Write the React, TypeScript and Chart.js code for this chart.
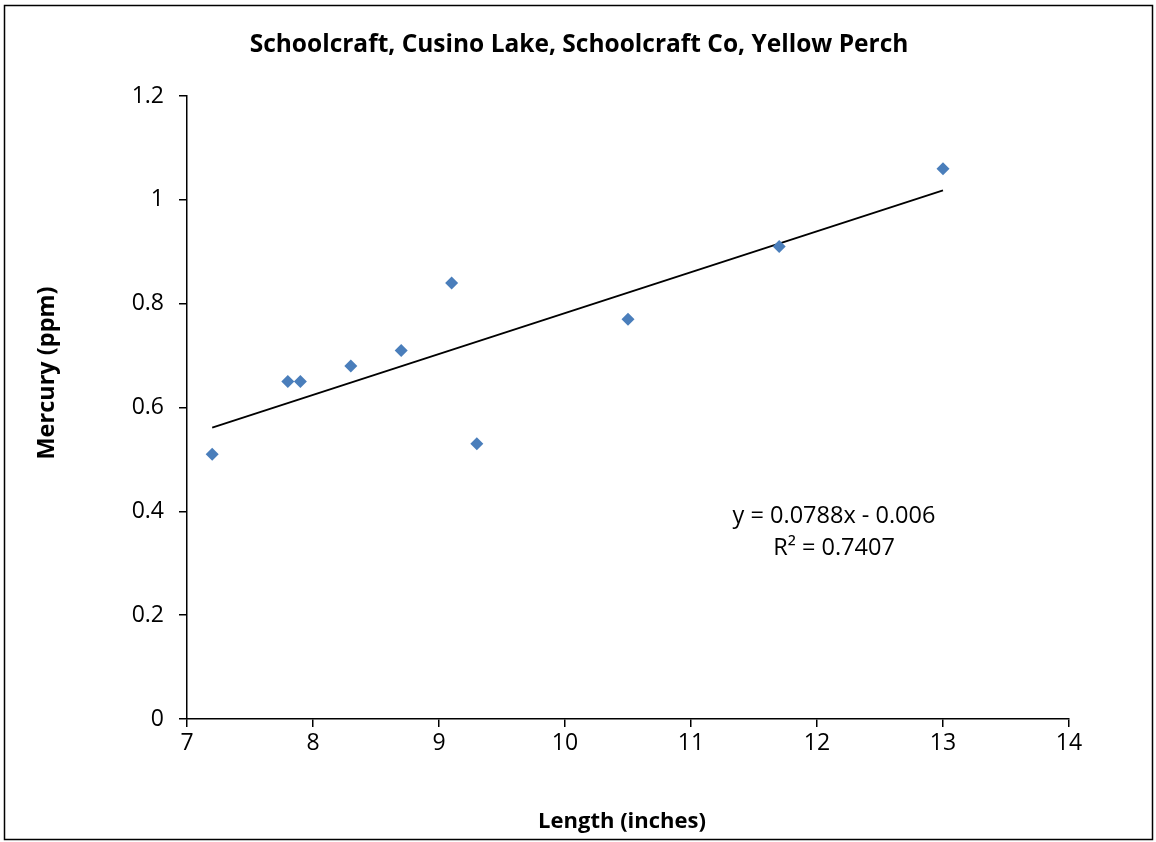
import React, { useEffect, useRef } from "react";
import { Chart, registerables } from "chart.js";

Chart.register(...registerables);

const lengths = [7.2, 7.8, 7.9, 8.3, 8.7, 9.1, 9.3, 10.5, 11.7, 13];
const mercury = [0.51, 0.65, 0.65, 0.68, 0.71, 0.84, 0.53, 0.77, 0.91, 1.06];
const trendSlope = 0.0788;
const trendIntercept = -0.006;
const xTicks = [7, 8, 9, 10, 11, 12, 13, 14];
const yTicks = [0, 0.2, 0.4, 0.6, 0.8, 1, 1.2];
const titleText = "Schoolcraft, Cusino Lake, Schoolcraft Co, Yellow Perch";
const xTitle = "Length (inches)";
const yTitle = "Mercury (ppm)";
const eqLines = ["y = 0.0788x - 0.006", "R\u00B2 = 0.7407"];

const FONT = "'Open Sans', sans-serif";

const decorPlugin = {
  id: "decor",
  beforeDraw(chart: any) {
    const ctx = chart.ctx;
    ctx.save();
    ctx.fillStyle = "#fff";
    ctx.fillRect(0, 0, chart.width, chart.height);
    ctx.restore();
  },
  afterDraw(chart: any) {
    const ctx = chart.ctx;
    ctx.save();
    ctx.strokeStyle = "#000";
    ctx.lineWidth = 1.5;
    ctx.strokeRect(4.5, 5.5, 1148, 834);
    ctx.fillStyle = "#000";
    ctx.textAlign = "center";
    ctx.textBaseline = "middle";
    ctx.font = `bold 24.5px ${FONT}`;
    ctx.fillText(titleText, 579, 45);
    ctx.font = `bold 22px ${FONT}`;
    ctx.fillText(xTitle, 622, 822);
    ctx.save();
    ctx.font = `bold 23.5px ${FONT}`;
    ctx.translate(47, 373);
    ctx.rotate(-Math.PI / 2);
    ctx.fillText(yTitle, 0, 0);
    ctx.restore();
    ctx.font = `23.5px ${FONT}`;
    ctx.fillText(eqLines[0], 834, 516);
    ctx.fillText(eqLines[1], 834, 548);
    ctx.restore();
  },
};

export default function App() {
  const ref = useRef<HTMLCanvasElement>(null);
  useEffect(() => {
    if (!ref.current) return;
    const xMin = Math.min(...lengths);
    const xMax = Math.max(...lengths);
    const trend = [
      { x: xMin, y: trendSlope * xMin + trendIntercept },
      { x: xMax, y: trendSlope * xMax + trendIntercept },
    ];
    const chart = new Chart(ref.current, {
      type: "scatter",
      data: {
        datasets: [
          {
            data: lengths.map((x, i) => ({ x, y: mercury[i] })),
            pointStyle: "rectRot",
            pointRadius: 6.5,
            backgroundColor: "#4A7EBB",
            borderColor: "#4A7EBB",
            borderWidth: 0,
            showLine: false,
          },
          {
            type: "line",
            data: trend,
            borderColor: "#000",
            borderWidth: 1.8,
            pointRadius: 0,
            fill: false,
          } as any,
        ],
      },
      options: {
        animation: false,
        responsive: false,
        layout: { padding: { left: 117, right: 87, top: 96, bottom: 63 } },
        plugins: {
          legend: { display: false },
          tooltip: { enabled: false },
          title: { display: false },
        },
        scales: {
          x: {
            type: "linear",
            min: 7,
            max: 14,
            afterBuildTicks(scale: any) {
              scale.ticks = xTicks.map((v) => ({ value: v }));
            },
            afterFit(scale: any) {
              scale.height = 60;
            },
            grid: {
              display: true,
              drawOnChartArea: false,
              drawTicks: true,
              tickLength: 8,
              color: "#000",
              lineWidth: 1.5,
            },
            border: { display: true, color: "#000", width: 1.5 },
            ticks: {
              color: "#000",
              font: { family: FONT, size: 23 },
              padding: 3,
              maxRotation: 0,
            },
          },
          y: {
            type: "linear",
            min: 0,
            max: 1.2,
            afterBuildTicks(scale: any) {
              scale.ticks = yTicks.map((v) => ({ value: v }));
            },
            afterFit(scale: any) {
              scale.width = 70;
            },
            grid: {
              display: true,
              drawOnChartArea: false,
              drawTicks: true,
              tickLength: 8,
              color: "#000",
              lineWidth: 1.5,
            },
            border: { display: true, color: "#000", width: 1.5 },
            ticks: {
              color: "#000",
              font: { family: FONT, size: 23 },
              padding: 15,
              callback: (v: any) => String(Number(v)),
            },
          },
        },
      },
      plugins: [decorPlugin],
    });
    return () => chart.destroy();
  }, []);
  return (
    <div style={{ position: "fixed", left: 0, top: 0, width: 1156, height: 842 }}>
      <canvas ref={ref} width={1156} height={842} style={{ width: 1156, height: 842, display: "block" }} />
    </div>
  );
}
